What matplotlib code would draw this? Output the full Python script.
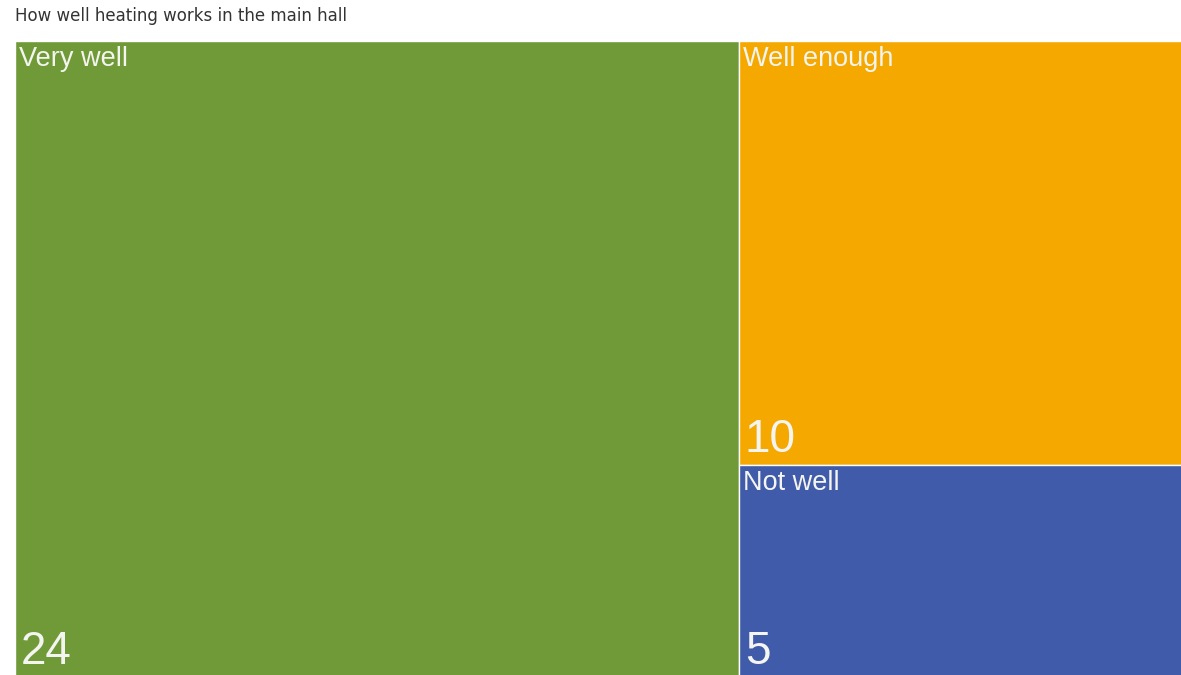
import matplotlib.pyplot as plt
from matplotlib.patches import Rectangle

# treemap data
labels = ['Very well', 'Well enough', 'Not well']
values = [24, 10, 5]
colors = ['#6F9A37', '#F5A800', '#3F5BA9']
title = 'How well heating works in the main hall'

plt.rcParams['font.family'] = ['Liberation Sans', 'DejaVu Sans']

fig = plt.figure(figsize=(11.81, 6.75), dpi=100)
# plot area runs a little past the right/bottom edge, like the original
ax = fig.add_axes([15 / 1181, -2 / 675, 1176 / 1181, 636 / 675])
total = sum(values)
ax.set_xlim(0, total)
ax.set_ylim(0, 1)
ax.axis('off')

# first box takes full height, the rest stack in the right column
rects = []
w0 = values[0]
rects.append((0, 0, w0, 1))
rest = sum(values[1:])
top = 1.0
for v in values[1:]:
    h = v / rest
    rects.append((w0, top - h, total - w0, h))
    top -= h

# pixel -> data offsets for text padding
px = total / 1176
py = 1 / 636
for (x, y, w, h), lab, val, c in zip(rects, labels, values, colors):
    ax.add_patch(Rectangle((x, y), w, h, facecolor=c, edgecolor='white', linewidth=1))
    ax.text(x + 4 * px, y + h - 5 * py, lab, color='#F4F4F0', fontsize=19.5,
            ha='left', va='top')
    ax.text(x + 6 * px, y + 3 * py, str(val), color='#F4F4F0', fontsize=33,
            ha='left', va='bottom')

fig.text(15 / 1181, 1 - 16 / 675, title, fontsize=12, color='#333333',
         ha='left', va='center', family='DejaVu Sans')

fig.savefig('out.png', dpi=100)
